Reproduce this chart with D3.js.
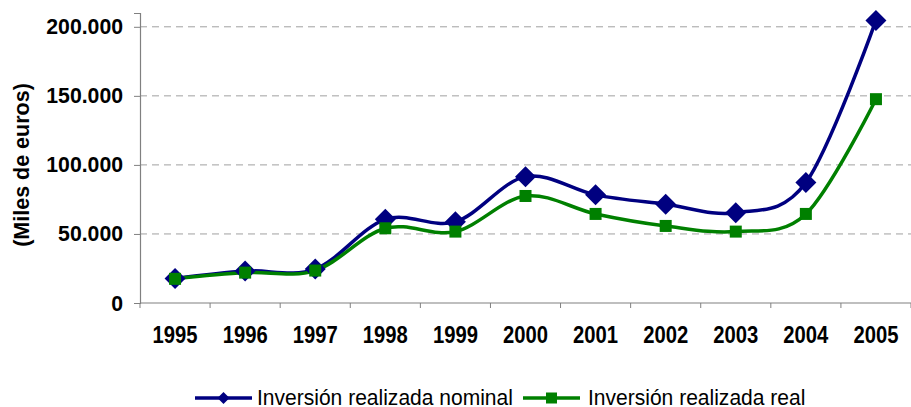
<!DOCTYPE html>
<html>
<head>
<meta charset="utf-8">
<script src="https://cdn.jsdelivr.net/npm/d3@7"></script>
<style>
    body { margin: 0; background: #fff; }
    svg { display: block; font-family: "Liberation Sans", Arial, sans-serif; }
    .axis text { font-weight: bold; fill: #000; }
    .y.axis text { font-size: 22px; }
    .x.axis text { font-size: 23px; }
</style>
</head>
<body>
<div id="chart"></div>
<script>
// Data (miles de euros)
var years = ["1995", "1996", "1997", "1998", "1999", "2000", "2001", "2002", "2003", "2004", "2005"];
var nominal = [17800, 23200, 24600, 60600, 58800, 91500, 78300, 71500, 65400, 87200, 204600];
var real = [17500, 22000, 23500, 54100, 51700, 77500, 64500, 55800, 51700, 64500, 147600];
var yTicks = [0, 50000, 100000, 150000, 200000];
var seriesNames = ["Inversión realizada nominal", "Inversión realizada real"];

var width = 911,
    height = 407,
    plotLeft = 140,
    plotRight = 911,
    plotTop = 13,
    plotBottom = 303;

var navy = "#000080",
    green = "#008000";

// Spanish number format: 200.000
var es = d3.formatLocale({ decimal: ",", thousands: ".", grouping: [3], currency: ["", " €"] });
var fmt = es.format(",");

var svg = d3.select("#chart").append("svg")
    .attr("width", width)
    .attr("height", height);

var x = d3.scaleBand()
    .domain(years)
    .range([plotLeft, plotRight]);

var y = d3.scaleLinear()
    .domain([0, 210000])
    .range([plotBottom, plotTop]);

// Dashed gridlines
svg.append("g")
    .selectAll("line")
    .data(yTicks.filter(d => d > 0))
    .enter().append("line")
    .attr("x1", plotLeft)
    .attr("x2", plotRight)
    .attr("y1", d => y(d))
    .attr("y2", d => y(d))
    .attr("stroke", "#a0a0a0")
    .attr("stroke-width", 1)
    .attr("stroke-dasharray", "7,5");

// Y axis
var yAxis = d3.axisLeft(y)
    .tickValues(yTicks)
    .tickSize(6)
    .tickPadding(11)
    .tickFormat(fmt);

var gy = svg.append("g")
    .attr("class", "y axis")
    .attr("transform", "translate(" + plotLeft + ",0)")
    .call(yAxis);
gy.select(".domain").attr("stroke", "#808080").attr("stroke-width", 1.2);
gy.selectAll(".tick line").attr("stroke", "#808080");
// the original text is a bit narrow, squeeze it slightly
gy.selectAll(".tick text")
    .attr("x", -17 / 0.965)
    .attr("transform", "scale(0.965,1)");

// X axis: labels centred in the band, ticks on the band edges
var xAxis = d3.axisBottom(x)
    .tickSize(0)
    .tickPadding(24);

var gx = svg.append("g")
    .attr("class", "x axis")
    .attr("transform", "translate(0," + plotBottom + ")")
    .call(xAxis);
gx.select(".domain").remove();
gx.selectAll(".tick text").attr("transform", "scale(0.88,1)");

gx.append("line")
    .attr("x1", plotLeft)
    .attr("x2", plotRight)
    .attr("stroke", "#808080")
    .attr("stroke-width", 1.2);

gx.selectAll(".edge")
    .data(d3.range(years.length + 1))
    .enter().append("line")
    .attr("class", "edge")
    .attr("x1", i => plotLeft + i * x.step())
    .attr("x2", i => plotLeft + i * x.step())
    .attr("y1", 0)
    .attr("y2", 5)
    .attr("stroke", "#808080");

// Y axis title
svg.append("text")
    .attr("transform", "translate(29,165) rotate(-90)")
    .attr("text-anchor", "middle")
    .style("font-size", "21.5px")
    .style("font-weight", "bold")
    .text("(Miles de euros)");

// Smoothed lines, like Excel
var line = d3.line()
    .x((d, i) => x(years[i]) + x.bandwidth() / 2)
    .y(d => y(d))
    .curve(d3.curveCardinal);

svg.append("path")
    .datum(nominal)
    .attr("d", line)
    .attr("fill", "none")
    .attr("stroke", navy)
    .attr("stroke-width", 3.5);

svg.append("path")
    .datum(real)
    .attr("d", line)
    .attr("fill", "none")
    .attr("stroke", green)
    .attr("stroke-width", 3.5);

function diamond(h) {
    return "M0," + (-h) + "L" + h + ",0L0," + h + "L" + (-h) + ",0Z";
}

// Markers
svg.append("g")
    .selectAll("path")
    .data(nominal)
    .enter().append("path")
    .attr("transform", (d, i) => "translate(" + (x(years[i]) + x.bandwidth() / 2) + "," + y(d) + ")")
    .attr("d", diamond(10.5))
    .attr("fill", navy);

svg.append("g")
    .selectAll("rect")
    .data(real)
    .enter().append("rect")
    .attr("x", (d, i) => x(years[i]) + x.bandwidth() / 2 - 6)
    .attr("y", d => y(d) - 6)
    .attr("width", 12)
    .attr("height", 12)
    .attr("fill", green);

// Legend
var legendY = 398;
var legend = [
    { name: seriesNames[0], color: navy, x0: 195, tx: 257 },
    { name: seriesNames[1], color: green, x0: 523, tx: 588 }
];

var lg = svg.append("g")
    .selectAll("g")
    .data(legend)
    .enter().append("g");

lg.append("line")
    .attr("x1", d => d.x0)
    .attr("x2", d => d.x0 + 57)
    .attr("y1", legendY)
    .attr("y2", legendY)
    .attr("stroke", d => d.color)
    .attr("stroke-width", 3.5);

lg.each(function (d, i) {
    var g = d3.select(this);
    var cx = d.x0 + 28.5;
    if (i === 0) {
        g.append("path")
            .attr("transform", "translate(" + cx + "," + legendY + ")")
            .attr("d", diamond(6))
            .attr("fill", d.color);
    } else {
        g.append("rect")
            .attr("x", cx - 5.5)
            .attr("y", legendY - 5.5)
            .attr("width", 11)
            .attr("height", 11)
            .attr("fill", d.color);
    }
});

lg.append("text")
    .attr("transform", d => "translate(" + d.tx + ",405) scale(0.935,1)")
    .style("font-size", "22.5px")
    .style("fill", "#000")
    .text(d => d.name);
</script>
</body>
</html>
